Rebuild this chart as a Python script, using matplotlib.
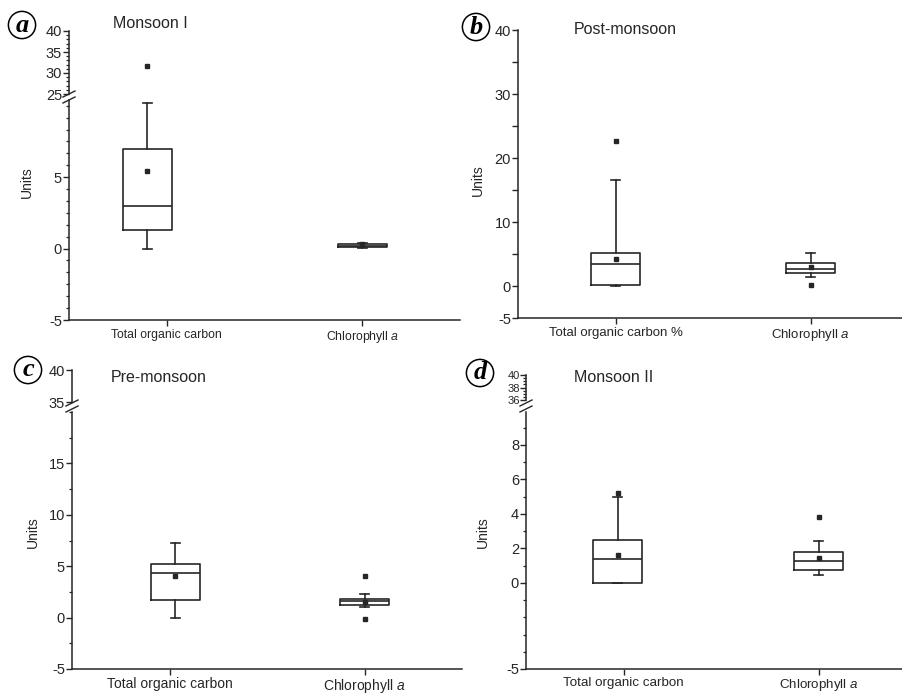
import matplotlib
matplotlib.use("Agg")
import matplotlib.pyplot as plt
from matplotlib.lines import Line2D
from matplotlib.ticker import AutoMinorLocator, MultipleLocator

plt.rcParams["font.family"] = ["Liberation Sans", "DejaVu Sans"]
plt.rcParams["mathtext.fontset"] = "custom"
plt.rcParams["mathtext.rm"] = "Liberation Sans"
plt.rcParams["mathtext.it"] = "Liberation Sans:italic"
plt.rcParams["axes.unicode_minus"] = False

W, H = 902, 695
INK = "#262626"

# categories / tick labels
cat_labels = ["Total organic carbon", "Chlorophyll $\\mathit{a}$"]
cat_labels_b = ["Total organic carbon %", "Chlorophyll $\\mathit{a}$"]
titles = ["Monsoon I", "Post-monsoon", "Pre-monsoon", "Monsoon II"]
letters = ["a", "b", "c", "d"]

# box statistics: [TOC, Chl a]
a_q1 = [1.3, 0.08]
a_med = [3.0, 0.2]
a_q3 = [7.0, 0.35]
a_lo = [0.0, 0.05]
a_hi = [10.2, 0.4]
a_mean = [5.4, 0.3]
a_fliers = [[31.7], []]
a_pos = [0.9, 2.0]

b_q1 = [0.1, 2.0]
b_med = [3.4, 2.6]
b_q3 = [5.1, 3.6]
b_lo = [0.0, 1.4]
b_hi = [16.6, 5.1]
b_mean = [4.2, 3.0]
b_fliers = [[22.7], [0.1]]
b_pos = [1.0, 2.0]

c_q1 = [1.75, 1.26]
c_med = [4.3, 1.6]
c_q3 = [5.2, 1.85]
c_lo = [0.0, 1.0]
c_hi = [7.3, 2.3]
c_mean = [4.0, 1.5]
c_fliers = [[], [4.0, -0.1]]
c_pos = [1.03, 2.0]

d_q1 = [0.0, 0.75]
d_med = [1.4, 1.28]
d_q3 = [2.5, 1.8]
d_lo = [0.0, 0.47]
d_hi = [5.0, 2.44]
d_mean = [1.6, 1.45]
d_fliers = [[5.2], [3.84]]
d_pos = [0.97, 2.0]


def make_stats(q1, med, q3, lo, hi, mean, fliers):
    return [
        dict(q1=q1[i], med=med[i], q3=q3[i], whislo=lo[i], whishi=hi[i],
             mean=mean[i], fliers=fliers[i], label="")
        for i in range(len(q1))
    ]


def px_axes(fig, left, top, right, bottom):
    return fig.add_axes([left / W, 1 - bottom / H, (right - left) / W, (bottom - top) / H])


def draw_boxes(ax, stats, pos):
    line = dict(color=INK, lw=1.2)
    mark = dict(marker="s", markersize=2.8, markerfacecolor=INK,
                markeredgecolor=INK, linestyle="none")
    ax.bxp(stats, positions=pos, widths=0.25, capwidths=0.045,
           showmeans=True, manage_ticks=False,
           boxprops=line, whiskerprops=line, capprops=line, medianprops=line,
           meanprops=mark, flierprops=mark)
    ax.set_xlim(0.5, 2.5)


def style(ax, bottom=True):
    for side in ["top", "right"]:
        ax.spines[side].set_visible(False)
    ax.spines["left"].set_color(INK)
    ax.spines["left"].set_linewidth(1.1)
    ax.tick_params(axis="y", which="major", direction="out", length=4,
                   width=1.0, color=INK, labelcolor=INK, labelsize=10.5, pad=1)
    ax.tick_params(axis="y", which="minor", direction="out", length=2.5,
                   width=0.9, color=INK)
    if bottom:
        ax.spines["bottom"].set_color(INK)
        ax.spines["bottom"].set_linewidth(1.1)
        ax.tick_params(axis="x", direction="out", length=4, width=1.0,
                       color=INK, labelcolor=INK, pad=2.5)
    else:
        ax.spines["bottom"].set_visible(False)
        ax.set_xticks([])
    ax.patch.set_alpha(0)


def break_marks(fig, x, y):
    for d in (-3, 3):
        fig.add_artist(Line2D([(x - 6) / W, (x + 6) / W],
                              [1 - (y + d + 3) / H, 1 - (y + d - 3) / H],
                              color=INK, lw=1.0))


def label_panel(fig, letter, cx, cy, title, tx, ty, ux, uy):
    fig.text(cx / W, 1 - cy / H, letter, family=["Liberation Serif", "DejaVu Serif"],
             style="italic", weight="bold", fontsize=19, ha="center", va="center",
             color="black",
             bbox=dict(boxstyle="circle,pad=0.08", fc="white", ec="black", lw=1.1))
    fig.text(tx / W, 1 - ty / H, title, fontsize=11.5, ha="center", va="center", color=INK)
    fig.text(ux / W, 1 - uy / H, "Units", fontsize=10, rotation=90,
             ha="center", va="center", color=INK)


fig = plt.figure(figsize=(W / 100, H / 100), dpi=100)

# panel a: broken axis 25-40 over -5-10
st = make_stats(a_q1, a_med, a_q3, a_lo, a_hi, a_mean, a_fliers)
up = px_axes(fig, 69, 31, 460, 94)
lo = px_axes(fig, 69, 100, 460, 320)
for ax in (up, lo):
    draw_boxes(ax, st, a_pos)
up.set_ylim(25, 40)
up.set_yticks([25, 30, 35, 40])
up.yaxis.set_minor_locator(MultipleLocator(1))
style(up, bottom=False)
lo.set_ylim(-5, 10.4)
lo.set_yticks([-5, 0, 5])
lo.yaxis.set_minor_locator(AutoMinorLocator(6))
lo.set_xticks([1, 2], cat_labels, fontsize=8.8)
style(lo)
break_marks(fig, 69, 97)
label_panel(fig, letters[0], 22, 25, titles[0], 150, 24, 27, 182)

# panel b: single axis
st = make_stats(b_q1, b_med, b_q3, b_lo, b_hi, b_mean, b_fliers)
ax = px_axes(fig, 518, 30, 908, 318)
draw_boxes(ax, st, b_pos)
ax.set_ylim(-5, 40)
ax.set_yticks([-5, 0, 5, 10, 15, 20, 25, 30, 35, 40],
              ["-5", "0", "", "10", "", "20", "", "30", "", "40"])
ax.set_xticks([1, 2], cat_labels_b, fontsize=9.5)
style(ax)
label_panel(fig, letters[1], 476, 27, titles[1], 625, 30, 478, 180)

# panel c: broken axis 35-40 over -5-20
st = make_stats(c_q1, c_med, c_q3, c_lo, c_hi, c_mean, c_fliers)
up = px_axes(fig, 72, 370, 462, 402)
lo = px_axes(fig, 72, 412, 462, 669)
for ax in (up, lo):
    draw_boxes(ax, st, c_pos)
up.set_ylim(35, 40)
up.set_yticks([35, 40])
style(up, bottom=False)
lo.set_ylim(-5, 20)
lo.set_yticks([-5, 0, 5, 10, 15])
lo.yaxis.set_minor_locator(AutoMinorLocator(2))
lo.set_xticks([1, 2], cat_labels, fontsize=10)
style(lo)
lo.tick_params(axis="x", pad=1.5)
break_marks(fig, 72, 406)
label_panel(fig, letters[2], 28, 370, titles[2], 159, 378, 33, 532)

# panel d: broken axis 36-40 over -5-10
st = make_stats(d_q1, d_med, d_q3, d_lo, d_hi, d_mean, d_fliers)
up = px_axes(fig, 526, 375, 916, 400)
lo = px_axes(fig, 526, 412, 916, 669)
for ax in (up, lo):
    draw_boxes(ax, st, d_pos)
up.set_ylim(36, 40)
up.set_yticks([36, 38, 40])
up.yaxis.set_minor_locator(MultipleLocator(0.5))
style(up, bottom=False)
up.tick_params(axis="y", labelsize=8, pad=0)
lo.set_ylim(-5, 9.9)
lo.set_yticks([-5, 0, 2, 4, 6, 8])
lo.yaxis.set_minor_locator(MultipleLocator(1))
lo.set_xticks([1, 2], cat_labels, fontsize=9.6)
style(lo)
lo.tick_params(axis="x", pad=1.5)
break_marks(fig, 526, 406)
label_panel(fig, letters[3], 480, 373, titles[3], 614, 378, 483, 532)

fig.savefig("out.png", dpi=100)
